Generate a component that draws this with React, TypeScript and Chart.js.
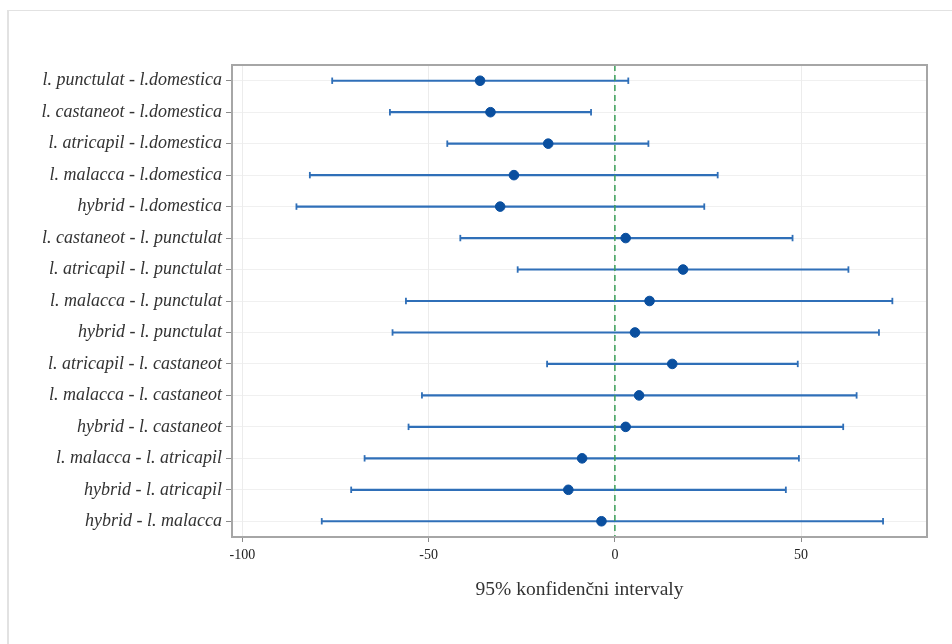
import React, { useEffect, useRef } from "react";
import { Chart, registerables } from "chart.js";

Chart.register(...registerables);

const comparisons = [
  "l. punctulat - l.domestica",
  "l. castaneot - l.domestica",
  "l. atricapil - l.domestica",
  "l. malacca - l.domestica",
  "hybrid - l.domestica",
  "l. castaneot - l. punctulat",
  "l. atricapil - l. punctulat",
  "l. malacca - l. punctulat",
  "hybrid - l. punctulat",
  "l. atricapil - l. castaneot",
  "l. malacca - l. castaneot",
  "hybrid - l. castaneot",
  "l. malacca - l. atricapil",
  "hybrid - l. atricapil",
  "hybrid - l. malacca",
];
const lowerCI = [-75.9, -60.4, -45.0, -81.9, -85.5, -41.5, -26.1, -56.1, -59.7, -18.2, -51.8, -55.4, -67.2, -70.8, -78.7];
const meanDiff = [-36.2, -33.4, -17.9, -27.1, -30.8, 2.9, 18.3, 9.3, 5.4, 15.4, 6.5, 2.9, -8.8, -12.5, -3.6];
const upperCI = [3.6, -6.4, 9.0, 27.6, 24.0, 47.7, 62.7, 74.5, 70.9, 49.1, 64.9, 61.3, 49.4, 45.9, 72.0];
const xTicks = [-100, -50, 0, 50];
const xMin = -102.8;
const xMax = 83.8;
const referenceValue = 0;
const xTitle = "95% konfidenčni intervaly";

const lineColor = "#2f6fb8";
const dotColor = "#0a4f9f";

const overlayPlugin = {
  id: "overlay",
  afterDatasetsDraw(chart: any) {
    const { ctx, chartArea, scales } = chart;
    const x0 = scales.x.getPixelForValue(referenceValue);
    ctx.save();
    ctx.strokeStyle = "#3a9e58";
    ctx.lineWidth = 1.5;
    ctx.setLineDash([6, 4]);
    ctx.beginPath();
    ctx.moveTo(x0, chartArea.top);
    ctx.lineTo(x0, chartArea.bottom);
    ctx.stroke();
    ctx.setLineDash([]);
    ctx.strokeStyle = "#a6a6a6";
    ctx.lineWidth = 2;
    ctx.strokeRect(
      chartArea.left,
      chartArea.top,
      chartArea.right - chartArea.left,
      chartArea.bottom - chartArea.top
    );
    ctx.restore();
  },
};

export default function App() {
  const canvasRef = useRef<HTMLCanvasElement | null>(null);

  useEffect(() => {
    const canvas = canvasRef.current;
    if (!canvas) return;
    const chart = new Chart(canvas, {
      type: "bar",
      data: {
        labels: comparisons,
        datasets: [
          {
            type: "line",
            label: "mean",
            data: meanDiff,
            indexAxis: "y",
            showLine: false,
            pointStyle: "circle",
            pointRadius: 4.8,
            pointHoverRadius: 4.8,
            pointBackgroundColor: dotColor,
            pointBorderColor: dotColor,
            pointBorderWidth: 1,
            order: 0,
          } as any,
          {
            type: "line",
            label: "lowerCap",
            data: lowerCI,
            indexAxis: "y",
            showLine: false,
            pointStyle: "line",
            pointRotation: 90,
            pointRadius: 3.2,
            pointHoverRadius: 3.2,
            pointBorderColor: lineColor,
            pointBorderWidth: 1.8,
            order: 1,
          } as any,
          {
            type: "line",
            label: "upperCap",
            data: upperCI,
            indexAxis: "y",
            showLine: false,
            pointStyle: "line",
            pointRotation: 90,
            pointRadius: 3.2,
            pointHoverRadius: 3.2,
            pointBorderColor: lineColor,
            pointBorderWidth: 1.8,
            order: 1,
          } as any,
          {
            type: "bar",
            label: "CI",
            data: lowerCI.map((l, i) => [l, upperCI[i]]),
            backgroundColor: lineColor,
            borderWidth: 0,
            barThickness: 1.5,
            order: 3,
          } as any,
        ],
      },
      options: {
        indexAxis: "y",
        responsive: false,
        animation: false,
        devicePixelRatio: 1,
        layout: { padding: { top: 65, right: 25, bottom: 37, left: 0 } },
        plugins: {
          legend: { display: false },
          tooltip: { enabled: false },
          title: { display: false },
        },
        scales: {
          y: {
            type: "category",
            offset: true,
            grid: {
              offset: false,
              color: "#f0f0f0",
              lineWidth: 1,
              tickColor: "#8a8a8a",
              tickLength: 6,
              drawTicks: true,
            },
            border: { display: false },
            ticks: {
              autoSkip: false,
              padding: 4,
              color: "#333333",
              font: { family: "'Liberation Serif', serif", style: "italic", size: 18 },
            },
            afterFit: (s: any) => {
              s.width = 232;
            },
          },
          x: {
            type: "linear",
            min: xMin,
            max: xMax,
            afterBuildTicks: (s: any) => {
              s.ticks = xTicks.map((v) => ({ value: v }));
            },
            grid: {
              color: "#ececec",
              lineWidth: 1,
              tickColor: "#8a8a8a",
              tickLength: 5,
            },
            border: { display: false },
            ticks: {
              padding: 5,
              color: "#222222",
              font: { family: "'Liberation Serif', serif", size: 14 },
            },
            title: {
              display: true,
              text: xTitle,
              color: "#333333",
              font: { family: "'Liberation Serif', serif", size: 19.5 },
              padding: { top: 0, bottom: 5 },
            },
            afterFit: (s: any) => {
              s.height = 70;
            },
          },
        },
      } as any,
      plugins: [overlayPlugin],
    });
    return () => {
      chart.destroy();
    };
  }, []);

  return (
    <div style={{ position: "fixed", left: 0, top: 0, width: 952, height: 644, background: "#ffffff" }}>
      <div
        style={{
          position: "absolute",
          left: 7,
          top: 10,
          width: 1200,
          height: 900,
          borderLeft: "2px solid #e2e2e2",
          borderTop: "1.5px solid #e2e2e2",
        }}
      />
      <canvas
        ref={canvasRef}
        width={952}
        height={644}
        style={{ position: "absolute", left: 0, top: 0, width: 952, height: 644 }}
      />
    </div>
  );
}
